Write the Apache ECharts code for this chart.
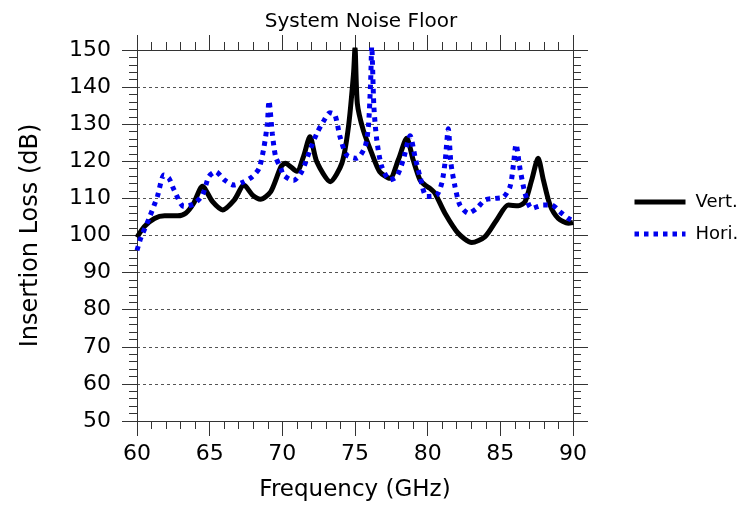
<!DOCTYPE html>
<html>
<head>
<meta charset="utf-8">
<script src="https://cdn.jsdelivr.net/npm/echarts@6/dist/echarts.min.js"></script>
<style>
  html, body { margin: 0; padding: 0; background: #fff; }
  #chart { width: 742px; height: 508px; }
</style>
</head>
<body>
<div id="chart"></div>
<script>
// values
const vertFreq = [60.0, 60.5, 61.2, 61.9, 62.8, 63.35, 63.9, 64.5, 65.2, 65.9, 66.7, 67.36, 67.95, 68.5, 69.2, 69.9,
  70.2, 71.0, 71.45, 71.9, 72.37, 73.3, 74.1, 74.55, 74.9, 75.0, 75.16, 75.57, 76.15, 76.7, 77.4, 77.98, 78.56,
  79.0, 79.47, 79.82, 80.16, 80.5, 81.19, 82.1, 83.03, 83.95, 84.75, 85.55, 86.24, 86.7, 87.16, 87.6, 87.96,
  88.42, 88.99, 89.68, 90.0];
const vertLoss = [99.5, 102.4, 104.6, 105.3, 105.3, 106.0, 108.7, 113.3, 109.1, 106.9, 109.6, 113.6, 110.9, 109.8, 111.8, 118.5,
  119.5, 117.3, 121.2, 126.6, 119.9, 114.5, 119.5, 129.3, 143.7, 150.5, 135.6, 128.4, 122.2, 117.2, 115.4, 120.4, 126.2,
  120.4, 115.0, 113.6, 112.7, 111.4, 106.0, 100.6, 98.1, 99.7, 104.2, 108.2, 108.0, 109.1, 115.0, 120.8, 115.0,
  108.2, 104.6, 103.3, 103.5];

const horiFreq = [60.0, 60.25, 60.83, 61.4, 61.86, 62.2, 62.55, 63.23, 63.92, 64.5, 64.95, 65.42, 66.0, 66.67, 67.36, 67.94,
  68.4, 68.74, 68.97, 69.08, 69.31, 69.54, 69.9, 70.07, 70.76, 71.33, 71.9, 72.37, 72.82, 73.28, 73.62, 73.97, 74.43,
  75.12, 75.69, 75.92, 76.08, 76.15, 76.3, 76.5, 76.84, 77.4, 77.87, 78.32, 78.79, 79.13, 79.47, 79.93, 80.62, 80.97,
  81.19, 81.42, 81.6, 81.88, 82.22, 82.8, 83.37, 83.95, 84.63, 85.2, 85.67, 85.9, 86.08, 86.35, 86.7, 87.16, 87.96,
  88.53, 89.1, 89.68, 90.0];
const horiLoss = [96.0, 99.2, 104.6, 110.5, 116.3, 115.4, 112.3, 107.8, 108.5, 110.9, 115.9, 117.2, 115.0, 113.6, 114.5, 115.9,
  118.1, 123.9, 130.2, 136.3, 127.5, 121.2, 118.1, 116.3, 114.8, 117.2, 123.0, 127.5, 130.7, 133.1, 132.5, 126.6, 121.7,
  120.8, 123.9, 129.3, 141.9, 151.0, 134.7, 125.7, 118.6, 115.0, 115.9, 120.4, 126.9, 121.2, 115.9, 110.5, 110.9, 114.1,
  119.5, 128.8, 119.5, 113.2, 108.2, 106.0, 107.3, 109.6, 110.0, 110.3, 113.2, 119.0, 124.6, 118.1, 111.4, 107.3, 108.2,
  108.2, 106.4, 104.6, 104.0];

const seriesNames = ["Vert.", "Hori."];

const FONT = "DejaVu Sans";
const pairs = (xs, ys) => xs.map((x, i) => [x, ys[i]]);

const tickCommon = {
  axisLine: { show: true, onZero: false, lineStyle: { color: "#333", width: 1 } },
  axisTick: { show: true, inside: false, length: 15, lineStyle: { color: "#333" } },
  minorTick: { show: true, splitNumber: 5, length: 8, lineStyle: { color: "#333" } },
  minorSplitLine: { show: false }
};

const chart = echarts.init(document.getElementById("chart"));
chart.setOption({
  animation: false,
  backgroundColor: "#fff",
  title: {
    text: "System Noise Floor",
    left: 356, top: 7, textAlign: "center",
    textStyle: { fontFamily: FONT, fontSize: 20, fontWeight: "normal", color: "#000" }
  },
  legend: {
    orient: "vertical",
    left: 627, top: 188,
    itemWidth: 51, itemHeight: 18, itemGap: 14,
    data: seriesNames,
    lineStyle: { width: 5 },
    itemStyle: { color: "rgba(0,0,0,0)", borderWidth: 0, opacity: 0 },
    textStyle: { fontFamily: FONT, fontSize: 18, color: "#000", padding: [0, 0, 0, 5] }
  },
  grid: { left: 137, top: 50, width: 436, height: 371, containLabel: false },
  xAxis: [
    Object.assign({
      type: "value", min: 60, max: 90, interval: 5, position: "bottom",
      name: "Frequency (GHz)", nameLocation: "middle", nameGap: 58,
      nameTextStyle: { fontFamily: FONT, fontSize: 23, color: "#000" },
      axisLabel: { fontFamily: FONT, fontSize: 22, color: "#000", margin: 22 },
      splitLine: { show: false }
    }, tickCommon),
    Object.assign({
      type: "value", min: 60, max: 90, interval: 5, position: "top",
      axisLabel: { show: false }, splitLine: { show: false }
    }, tickCommon)
  ],
  yAxis: [
    Object.assign({
      type: "value", min: 50, max: 150, interval: 10, position: "left",
      name: "Insertion Loss (dB)", nameLocation: "middle", nameGap: 94,
      nameTextStyle: { fontFamily: FONT, fontSize: 24, color: "#000" },
      axisLabel: { fontFamily: FONT, fontSize: 22, color: "#000", margin: 26 },
      splitLine: { show: true, lineStyle: { color: "#555", width: 1, type: [3, 3] } }
    }, tickCommon),
    Object.assign({
      type: "value", min: 50, max: 150, interval: 10, position: "right",
      axisLabel: { show: false }, splitLine: { show: false }
    }, tickCommon)
  ],
  series: [
    {
      name: seriesNames[0], type: "line", xAxisIndex: 0, yAxisIndex: 0,
      showSymbol: false, symbol: "none", smooth: 0.25, clip: true,
      lineStyle: { color: "#000", width: 5, type: "solid" },
      itemStyle: { color: "#000" },
      data: pairs(vertFreq, vertLoss)
    },
    {
      name: seriesNames[1], type: "line", xAxisIndex: 0, yAxisIndex: 0,
      showSymbol: false, symbol: "none", smooth: 0.25, clip: true,
      lineStyle: { color: "#0000ee", width: 5, type: [4.5, 5], cap: "butt" },
      itemStyle: { color: "#0000ee" },
      data: pairs(horiFreq, horiLoss)
    }
  ]
});
window.addEventListener("resize", () => chart.resize());
</script>
</body>
</html>
